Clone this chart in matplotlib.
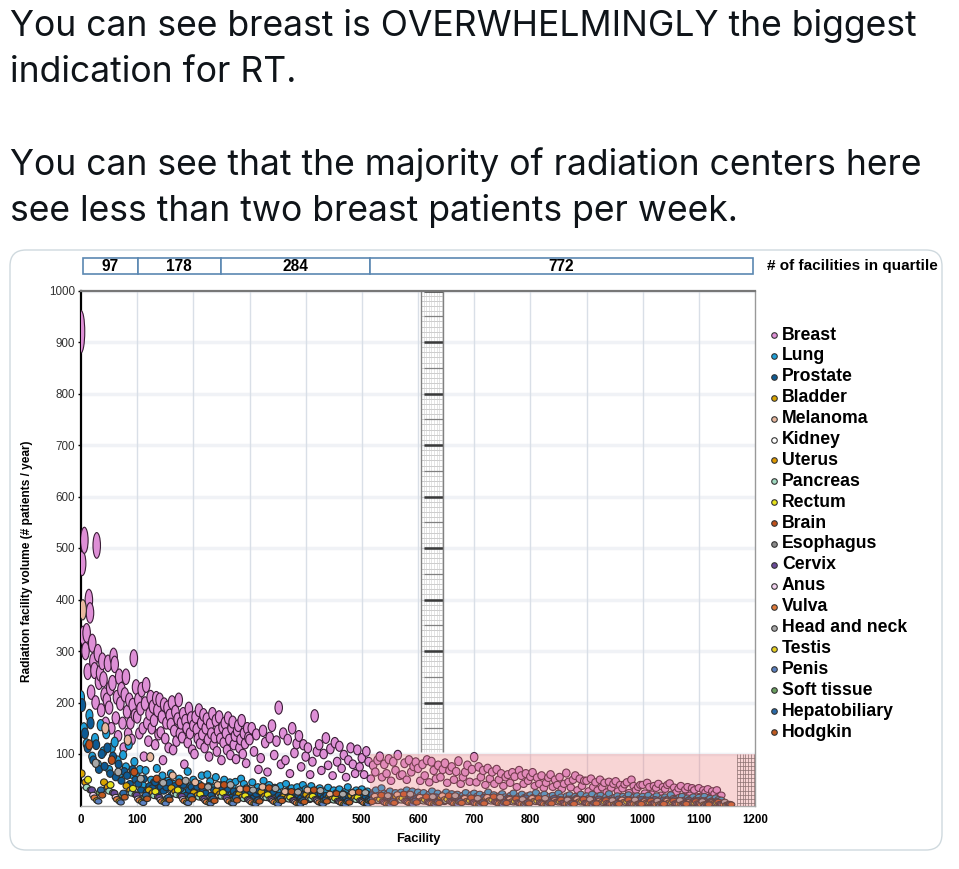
import numpy as np
import matplotlib
matplotlib.use('Agg')
import matplotlib.pyplot as plt
from matplotlib.collections import EllipseCollection
from matplotlib.patches import Rectangle, FancyBboxPatch
from matplotlib.transforms import blended_transform_factory

# tweet text
tweet_lines = ['You can see breast is OVERWHELMINGLY the biggest',
               'indication for RT.',
               'You can see that the majority of radiation centers here',
               'see less than two breast patients per week.']
tweet_baselines = [35.7, 81.7, 175, 220.7]

# quartile header
quartile_counts = ['97', '178', '284', '772']
quartile_edges = [4, 101, 249, 514, 1196]

# cancer types, legend order
cancers = ['Breast', 'Lung', 'Prostate', 'Bladder', 'Melanoma', 'Kidney', 'Uterus',
           'Pancreas', 'Rectum', 'Brain', 'Esophagus', 'Cervix', 'Anus', 'Vulva',
           'Head and neck', 'Testis', 'Penis', 'Soft tissue', 'Hepatobiliary', 'Hodgkin']
colors = ['#de8fd6', '#1e9fd8', '#0d5a94', '#d9a400', '#e8b89e', '#ffffff', '#e09a00',
          '#9fd9c0', '#e6e21a', '#c0501a', '#8a8a8a', '#6a4a9a', '#f2d2f0', '#e07a3a',
          '#a8a8a8', '#e8d020', '#5a80c0', '#6aa060', '#2a6aa8', '#c05a20']

# breast volume (patients / year), facilities ranked by size
# facility 0-298, every 2nd
breast_a = [920, 470, 330, 515, 300, 335, 260, 399, 374, 220,
            315, 280, 262, 200, 505, 296, 240, 257, 185, 280,
            245, 215, 160, 205, 276, 190, 228, 150, 238, 289,
            274, 170, 210, 135, 250, 198, 225, 160, 112, 215,
            250, 182, 140, 205, 160, 128, 195, 286, 175, 230,
            172, 205, 140, 188, 225, 150, 95, 198, 234, 160,
            125, 178, 210, 150, 192, 165, 118, 208, 185, 138,
            205, 142, 172, 88, 196, 130, 160, 190, 112, 175,
            158, 200, 108, 145, 182, 125, 168, 205, 140, 160,
            132, 178, 80, 165, 150, 122, 188, 140, 170, 108,
            155, 100, 172, 148, 130, 185, 120, 160, 138, 176,
            112, 150, 168, 128, 95, 158, 140, 178, 118, 132,
            165, 105, 145, 172, 130, 88, 152, 122, 160, 140,
            108, 170, 128, 98, 150, 162, 118, 135, 90, 145,
            155, 112, 128, 165, 100, 140, 120, 82, 150, 132]
# facility 300-1140, every 4th
breast_b = [128, 150, 105, 138, 70, 92, 145, 122, 65, 132, 155, 98, 125, 190, 80,
            140, 88, 128, 62, 150, 102, 120, 135, 75, 118,
            95, 112, 60, 85, 174, 105, 118, 68, 100, 131, 78, 110, 58, 122, 85,
            115, 72, 98, 55, 88, 112, 80, 62, 108, 75,
            92, 60, 105, 85, 52, 78, 65, 88, 95, 55, 80, 62, 90, 48, 85,
            68, 98, 58, 60, 82, 50, 88, 65, 76, 84,
            72, 48, 80, 58, 88, 45, 85, 68, 52, 78, 55, 70, 82, 44, 68,
            75, 50, 66, 86, 42, 55, 65, 78, 46, 70,
            94, 45, 75, 55, 68, 40, 72, 52, 65, 42, 70, 50, 62, 38, 55,
            60, 44, 64, 56, 36, 68, 58, 42, 62, 48,
            56, 64, 38, 54, 42, 58, 34, 44, 54, 60, 36, 50, 40, 55, 32,
            42, 63, 46, 35, 50, 58, 30, 52, 38, 48,
            48, 28, 52, 36, 45, 30, 50, 35, 44, 26, 46, 34, 42, 47, 28,
            40, 33, 41, 45, 25, 50, 38, 30, 36, 40,
            40, 24, 44, 36, 22, 38, 34, 42, 20, 36, 32, 40, 43, 22, 35,
            26, 33, 38, 18, 31, 36, 20, 34, 30, 18,
            34, 18, 30, 26, 32, 16, 28, 23, 30, 18, 20]

# facility 0-1140, every 5th
lung = [210, 150, 120, 175, 95, 130, 80, 156, 105, 140, 70, 112, 123, 88, 62, 98, 75, 118, 60, 85,
        55, 70, 40, 68, 32, 50, 45, 72, 38, 58, 30, 48, 62, 42, 35, 52, 28, 44, 66, 38,
        50, 30, 42, 58, 26, 60, 47, 35, 55, 30, 40, 50, 24, 45, 38, 46, 28, 52, 42, 34,
        22, 45, 30, 36, 26, 48, 32, 40, 24, 35, 28, 38, 20, 42, 30, 34, 22, 36, 28, 40,
        32, 25, 38, 20, 30, 34, 22, 28, 35, 20, 30, 25, 32, 18, 27, 36, 22, 26, 30, 20,
        32, 22, 28, 18, 25, 30, 20, 34, 24, 22, 28, 18, 25, 20, 26, 16, 30, 23, 28, 19,
        26, 20, 25, 16, 22, 28, 18, 24, 15, 21, 26, 17, 23, 18, 22, 14, 20, 25, 16, 21,
        24, 18, 22, 14, 20, 26, 16, 21, 13, 19, 23, 17, 15, 20, 24, 14, 18, 22, 16, 19,
        21, 16, 25, 14, 19, 22, 13, 18, 20, 15, 24, 17, 12, 19, 21, 14, 18, 16, 22, 13,
        19, 15, 22, 13, 18, 20, 12, 17, 23, 14, 16, 19, 12, 18, 15, 21, 13, 17, 19, 14,
        18, 13, 20, 12, 16, 19, 11, 15, 17, 13, 21, 14, 12, 16, 18, 11, 15, 13, 17, 12,
        16, 12, 18, 11, 14, 10, 15, 12, 11]
prostate = [195, 140, 112, 160, 88, 118, 70, 100, 76, 112, 62, 95, 55, 80, 48, 66, 58, 42, 70, 50,
            42, 30, 52, 26, 38, 34, 45, 24, 36, 28, 35, 44, 22, 38, 26, 32, 40, 20, 30, 36,
            28, 36, 18, 32, 24, 38, 20, 30, 26, 18, 34, 26, 32, 16, 28, 22, 30, 18, 24, 20,
            26, 15, 22, 28, 14, 24, 18, 30, 26, 12, 20, 16, 22, 27, 18, 24, 12, 20, 15, 22,
            24, 11, 17, 20, 14, 22, 16, 20, 11, 18, 13, 19, 10, 23, 15, 18, 12, 20, 14, 18,
            10, 16, 12, 21, 17, 9, 14, 16, 11, 19, 13, 16, 9, 14, 11, 15, 8, 18, 12, 14,
            10, 15, 11, 14, 8, 12, 17, 10, 13, 7, 11, 16, 12, 9, 14, 10, 15, 8, 12, 11,
            14, 9, 12, 16, 8, 11, 13, 10, 15, 9, 12, 7, 14, 10, 11, 13, 8, 12, 15, 9,
            11, 14, 8, 12, 10, 13, 7, 11, 14, 9, 12, 10, 8, 13, 11, 9, 14, 7, 10, 12,
            9, 12, 8, 11, 13, 7, 10, 12, 9, 11, 8, 13, 10, 7, 12, 9, 11, 8, 10, 12,
            8, 11, 7, 10, 12, 8, 9, 11, 7, 10, 8, 12, 9, 7, 10, 8, 11, 6, 9, 10,
            7, 10, 8, 6, 9, 7, 8, 6, 5]

# smaller sites, read every ~40th facility
bladder = [62, 45, 38, 30, 34, 25, 28, 22, 26, 18, 21, 16, 19, 14, 17, 12, 15, 11, 13, 10, 12, 9, 11, 8, 10, 7, 9, 7, 6]
melanoma = [380, 150, 127, 94, 58, 45, 40, 32, 36, 27, 30, 22, 25, 18, 21, 16, 19, 14, 16, 12, 14, 10, 12, 9, 11, 8, 9, 7, 6]
kidney = [40, 32, 26, 22, 24, 18, 20, 15, 17, 13, 15, 11, 13, 10, 12, 9, 10, 8, 9, 7, 8, 7, 7, 6, 6, 5, 5, 4, 4]
uterus = [45, 36, 30, 25, 27, 20, 23, 17, 19, 15, 17, 13, 15, 11, 13, 10, 12, 9, 10, 8, 9, 7, 8, 7, 7, 6, 6, 5, 5]
pancreas = [35, 28, 24, 19, 21, 16, 18, 13, 15, 12, 13, 10, 11, 9, 10, 8, 9, 7, 8, 6, 7, 6, 6, 5, 5, 5, 4, 4, 4]
rectum = [50, 40, 33, 27, 30, 22, 25, 19, 21, 16, 18, 14, 16, 12, 14, 11, 12, 9, 11, 8, 9, 8, 8, 7, 7, 6, 6, 5, 5]
brain = [118, 88, 65, 52, 45, 38, 40, 32, 34, 27, 30, 23, 26, 20, 22, 17, 19, 15, 17, 13, 14, 11, 12, 10, 11, 9, 9, 8, 7]
esophagus = [30, 25, 21, 17, 19, 14, 16, 12, 13, 10, 12, 9, 10, 8, 9, 7, 8, 6, 7, 6, 6, 5, 5, 5, 4, 4, 4, 4, 3]
cervix = [30, 24, 20, 16, 18, 13, 15, 11, 12, 10, 11, 8, 9, 7, 8, 6, 7, 6, 6, 5, 5, 5, 5, 4, 4, 4, 4, 3, 3]
anus = [20, 16, 13, 11, 12, 9, 10, 8, 9, 7, 8, 6, 7, 5, 6, 5, 5, 4, 5, 4, 4, 3, 4, 3, 3, 3, 3, 3, 2]
vulva = [15, 12, 10, 8, 9, 7, 8, 6, 7, 5, 6, 5, 5, 4, 5, 4, 4, 3, 4, 3, 3, 3, 3, 3, 3, 2, 3, 2, 2]
head_neck = [82, 65, 52, 44, 48, 36, 40, 30, 33, 26, 29, 22, 25, 19, 22, 17, 19, 14, 16, 12, 14, 11, 12, 10, 11, 9, 10, 8, 7]
testis = [10, 8, 7, 6, 6, 5, 5, 4, 5, 4, 4, 3, 4, 3, 3, 3, 3, 2, 3, 2, 2, 2, 2, 2, 2, 2, 2, 2, 1]
penis = [8, 6, 5, 4, 5, 4, 4, 3, 3, 3, 3, 2, 3, 2, 2, 2, 2, 2, 2, 2, 2, 1, 2, 1, 1, 1, 1, 1, 1]
soft_tissue = [25, 20, 17, 14, 15, 12, 13, 10, 11, 9, 10, 8, 9, 7, 8, 6, 7, 6, 6, 5, 5, 5, 5, 4, 4, 4, 4, 3, 3]
hepatobiliary = [30, 24, 20, 16, 18, 13, 15, 11, 13, 10, 11, 9, 10, 8, 9, 7, 8, 6, 7, 6, 6, 5, 5, 5, 4, 4, 4, 3, 3]
hodgkin = [20, 16, 13, 11, 12, 9, 10, 8, 9, 7, 8, 6, 7, 5, 6, 5, 5, 4, 5, 4, 4, 3, 4, 3, 3, 3, 3, 2, 2]
small_sites = [bladder, melanoma, kidney, uterus, pancreas, rectum, brain, esophagus, cervix,
               anus, vulva, head_neck, testis, penis, soft_tissue, hepatobiliary, hodgkin]


def ranks(start, step, vals):
    return start + step * np.arange(len(vals))


series = []
series.append((np.concatenate([ranks(0, 2, breast_a), ranks(300, 4, breast_b)]),
               np.array(breast_a + breast_b, float)))
series.append((ranks(0, 5, lung), np.array(lung, float)))
series.append((ranks(2, 5, prostate), np.array(prostate, float)))
for i, vals in enumerate(small_sites):
    series.append((ranks(1 + 2.3 * i, 40, vals), np.array(vals, float)))

fig = plt.figure(figsize=(9.59, 8.69), dpi=100)
bg = fig.add_axes([0, 0, 1, 1], zorder=0)
bg.set_xlim(0, 959)
bg.set_ylim(869, 0)
bg.axis('off')

# tweet text, sized to the reference line width
txts = [bg.text(10, yb, s, family='Inter', fontsize=24, color='#0f1419', va='baseline')
        for s, yb in zip(tweet_lines, tweet_baselines)]
fig.canvas.draw()
w = txts[2].get_window_extent(fig.canvas.get_renderer()).width
for t in txts:
    t.set_fontsize(24 * 915 / w)

bg.add_patch(FancyBboxPatch((10, 250), 932, 600, boxstyle='round,pad=0,rounding_size=16',
                            fc='none', ec='#cfd9de', lw=1))

ax = fig.add_axes([81 / 959, 63.5 / 869, 674 / 959, 515 / 869], zorder=1)
ax.set_xlim(0, 1200)
ax.set_ylim(0, 1000)

for v in range(100, 1001, 100):
    ax.axhline(v, color='#f0f2f6', lw=2.5, zorder=0)
for v in range(100, 1200, 100):
    ax.axvline(v, color='#d9dfe7', lw=1, zorder=0)

# scale-bar artefact in the middle of the plot
ladder_x0, ladder_x1, ladder_y0 = 606, 645, 104
for v in range(110, 1001, 10):
    ax.hlines(v, ladder_x0, ladder_x1, color='#b8b8b8', lw=0.5, zorder=1)
for xv in np.arange(ladder_x0 + 4.5, ladder_x1, 4.5):
    ax.vlines(xv, ladder_y0, 1000, color='#d0d0d0', lw=0.4, zorder=1)
for v in range(150, 1001, 50):
    ax.hlines(v, ladder_x0 + 4, ladder_x1, color='#808080', lw=0.9, zorder=1)
for v in range(200, 1001, 100):
    ax.hlines(v, ladder_x0 + 4, ladder_x1, color='#3a3a3a', lw=1.8, zorder=1)
ax.vlines([ladder_x0, ladder_x1], ladder_y0, 1000, color='#808080', lw=1, zorder=1)

# draw points as vertical ellipses (pixel sizes)
for k, (xs, ys) in enumerate(series):
    if k == 0:
        wd = np.full(len(xs), 7.5)
        ht = 5.5 + 0.04 * ys
        ec = '#3a1d36'
    else:
        wd = np.full(len(xs), 7.0)
        ht = 5 + 0.04 * ys
        ec = '#2b2b2b'
    coll = EllipseCollection(wd, ht, np.zeros(len(xs)), units='dots',
                             offsets=np.column_stack([xs, ys]), offset_transform=ax.transData,
                             facecolors=colors[k], edgecolors=ec, linewidths=0.8, zorder=3 + k * 0.01)
    ax.add_collection(coll)

# highlighted zone
ax.add_patch(Rectangle((514, 0), 686, 100, fc='#ec8080', ec='none', alpha=0.33, zorder=5))
for xv in np.arange(1168, 1200, 5):
    ax.vlines(xv, 0, 100, color='#8a7070', lw=0.5, zorder=5)
for v in np.arange(5, 100, 8):
    ax.hlines(v, 1168, 1200, color='#8a7070', lw=0.5, zorder=5)

for side, c, lw in [('left', 'black', 1.6), ('bottom', '#aaaaaa', 1), ('top', '#777777', 1.6),
                    ('right', '#999999', 1)]:
    ax.spines[side].set_color(c)
    ax.spines[side].set_linewidth(lw)

ax.set_yticks(range(100, 1001, 100))
ax.set_yticklabels([str(v) for v in range(100, 1001, 100)], family='Liberation Sans',
                   fontsize=8.4, color='#333333')
ax.set_xticks(range(0, 1201, 100))
ax.set_xticklabels([str(v) for v in range(0, 1201, 100)], family='Liberation Sans',
                   fontsize=8.3, fontweight='bold')
ax.tick_params(axis='y', length=2.5, width=1, pad=2)
ax.tick_params(axis='x', length=0, pad=6)
ax.set_xlabel('Facility', family='Liberation Sans', fontsize=9.4, fontweight='bold', labelpad=5)

bg.text(27, 561, 'Radiation facility volume (# patients / year)', rotation=90, ha='center',
        va='center', family='Liberation Sans', fontsize=8.6, fontweight='bold')

# quartile header boxes
tr = blended_transform_factory(ax.transData, ax.transAxes)
for lab, x0, x1 in zip(quartile_counts, quartile_edges[:-1], quartile_edges[1:]):
    ax.add_patch(Rectangle((x0, 1.032), x1 - x0, 0.031, transform=tr, fc='white',
                           ec='#5b88b2', lw=1.2, clip_on=False))
    ax.text((x0 + x1) / 2, 1.0475, lab, transform=tr, ha='center', va='center',
            family='Liberation Sans', fontsize=11.2, fontweight='bold')
bg.text(767, 266, '# of facilities in quartile', ha='left', va='center',
        family='Liberation Sans', fontsize=11, fontweight='bold')

# legend
for i, (name, c) in enumerate(zip(cancers, colors)):
    yy = 335 + i * 20.9
    bg.plot(774, yy, 'o', ms=4, mfc=c, mec='#333333', mew=0.8)
    bg.text(782, yy, name, ha='left', va='center', family='Liberation Sans',
            fontsize=12.7, fontweight='bold')

fig.savefig('out.png', dpi=100, facecolor='white')
